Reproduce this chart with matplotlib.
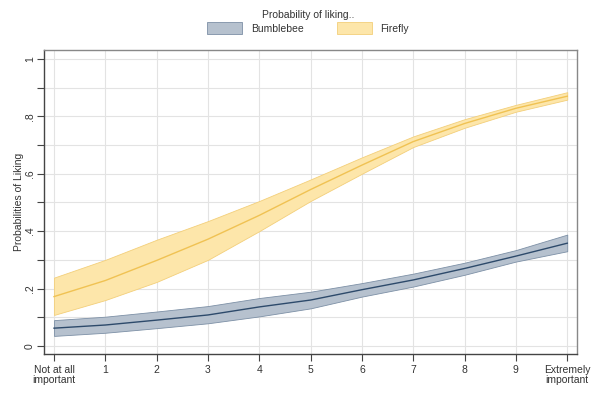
import matplotlib
matplotlib.use("Agg")
import matplotlib.pyplot as plt
from matplotlib.patches import Patch
import numpy as np

x_vals = [0, 1, 2, 3, 4, 5, 6, 7, 8, 9, 10]
x_labels = ["Not at all\nimportant", "1", "2", "3", "4", "5", "6", "7", "8", "9", "Extremely\nimportant"]

bumble_mean = [0.062, 0.073, 0.090, 0.108, 0.136, 0.160, 0.196, 0.230, 0.270, 0.313, 0.358]
bumble_low = [0.035, 0.046, 0.062, 0.079, 0.103, 0.131, 0.172, 0.207, 0.248, 0.294, 0.330]
bumble_high = [0.090, 0.102, 0.120, 0.139, 0.167, 0.189, 0.219, 0.252, 0.290, 0.334, 0.388]

fire_mean = [0.172, 0.228, 0.298, 0.372, 0.455, 0.545, 0.630, 0.712, 0.775, 0.828, 0.870]
fire_low = [0.108, 0.160, 0.223, 0.300, 0.400, 0.505, 0.600, 0.693, 0.760, 0.816, 0.858]
fire_high = [0.238, 0.300, 0.370, 0.435, 0.505, 0.580, 0.657, 0.730, 0.790, 0.840, 0.884]

series_names = ["Bumblebee", "Firefly"]

plt.rcParams['font.family'] = ['Liberation Sans', 'DejaVu Sans']

fig = plt.figure(figsize=(5.91, 3.94), dpi=100)
ax = fig.add_axes([44/591, 1 - 354/394, (577-44)/591, (354-50)/394])

b_fill = "#b6c1ce"
b_edge = "#7d90a6"
b_line = "#2d4a6b"
f_fill = "#fde6aa"
f_edge = "#f3cf7a"
f_line = "#f0c253"

ax.fill_between(x_vals, fire_low, fire_high, color=f_fill, edgecolor=f_edge, linewidth=0.6, zorder=2)
ax.plot(x_vals, fire_mean, color=f_line, linewidth=1.0, zorder=3)
ax.fill_between(x_vals, bumble_low, bumble_high, color=b_fill, edgecolor=b_edge, linewidth=0.6, zorder=2)
ax.plot(x_vals, bumble_mean, color=b_line, linewidth=1.0, zorder=3)

ax.set_xlim(-0.195, 10.19)
ax.set_ylim(-0.028, 1.031)
ax.set_xticks(x_vals)
ax.set_xticklabels(x_labels, fontsize=7.5, color="#333333", linespacing=0.95)
ax.set_yticks([0, 0.2, 0.4, 0.6, 0.8, 1.0])
ax.set_yticklabels(["0", ".2", ".4", ".6", ".8", "1"], fontsize=7.5, rotation=90, va="center", color="#333333")
ax.set_yticks([0.1, 0.3, 0.5, 0.7, 0.9], minor=True)
ax.tick_params(axis="y", which="both", length=5, width=0.8, color="#444444", pad=1.5)
ax.tick_params(axis="x", length=5, width=0.8, color="#444444", pad=3)
ax.grid(True, which="both", color="#e3e3e3", linewidth=0.8, zorder=0)
ax.set_axisbelow(True)

for s in ["left", "bottom"]:
    ax.spines[s].set_color("#444444")
    ax.spines[s].set_linewidth(1.0)
for s in ["top", "right"]:
    ax.spines[s].set_color("#888888")
    ax.spines[s].set_linewidth(1.0)

ax.set_ylabel("Probabilities of Liking", fontsize=7.5, color="#333333", labelpad=1)

handles = [Patch(facecolor=b_fill, edgecolor=b_edge, linewidth=0.6),
           Patch(facecolor=f_fill, edgecolor=f_edge, linewidth=0.6)]
leg = fig.legend(handles, series_names, loc="center", bbox_to_anchor=(308/591, 1 - 22/394),
                 ncol=2, frameon=False, fontsize=7.5, title="Probability of liking..",
                 title_fontsize=7.5, handlelength=3.4, handleheight=1.3, columnspacing=3.2,
                 handletextpad=0.8, borderpad=0.1, labelspacing=0.2)
leg.get_title().set_color("#333333")
for t in leg.get_texts():
    t.set_color("#333333")

fig.savefig("out.png", dpi=100)
